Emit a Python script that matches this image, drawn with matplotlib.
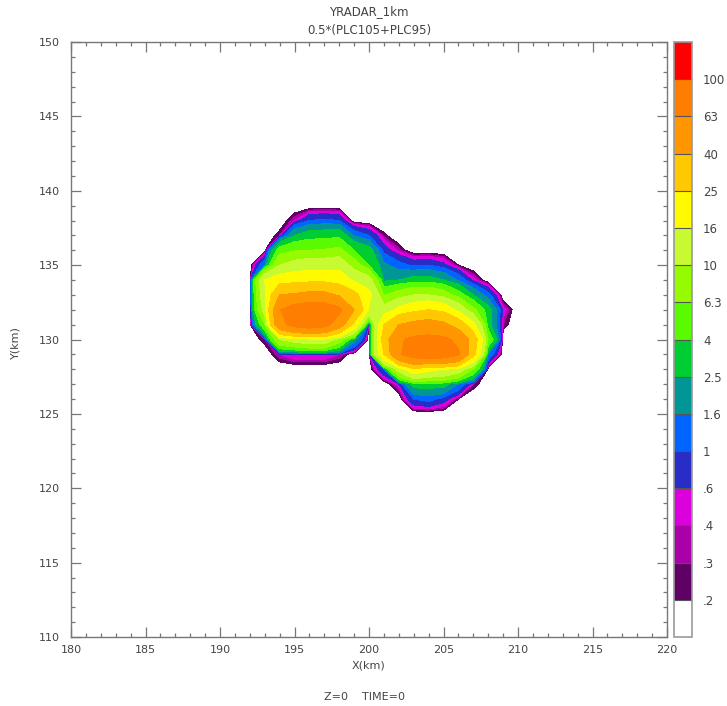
import numpy as np
import matplotlib
matplotlib.use("Agg")
import matplotlib.pyplot as plt
from matplotlib.colors import ListedColormap, BoundaryNorm
from matplotlib.cm import ScalarMappable
from matplotlib.ticker import MultipleLocator

# grid (km) and field values, rows from y=140 down to y=124
x_km = list(range(191, 211))
y_km = list(range(140, 123, -1))
field = [
    [0, 0, 0, 0, 0, 0, 0, 0, 0, 0, 0, 0, 0, 0, 0, 0, 0, 0, 0, 0],
    [0, 0, 0, 0, 0, 0, 0, 0, 0, 0, 0, 0, 0, 0, 0, 0, 0, 0, 0, 0],
    [0, 0, 0, 0, 0.4, 1.0, 1.1, 1.0, 0, 0, 0, 0, 0, 0, 0, 0, 0, 0, 0, 0],
    [0, 0, 0, 0.3, 2.5, 3.2, 3.3, 3.5, 1.5, 1.0, 0.25, 0, 0, 0, 0, 0, 0, 0, 0, 0],
    [0, 0, 0, 5, 6, 6.3, 6.5, 7, 4, 3, 0.8, 0.35, 0, 0, 0, 0, 0, 0, 0, 0],
    [0, 0, 1.5, 10, 12, 13, 13, 14, 8, 4, 1.8, 1.2, 0.9, 1.0, 0.7, 0.2, 0, 0, 0, 0],
    [0, 0, 16, 20, 21, 22, 22, 20, 15, 12, 2.2, 2.5, 3, 3, 2.5, 1.5, 0.5, 0, 0, 0],
    [0, 0, 14, 40, 42, 45, 45, 38, 28, 18, 6, 8, 10, 10, 8, 5, 2.5, 1.2, 0, 0],
    [0, 0, 12, 62, 75, 80, 80, 68, 40, 15, 12, 18, 22, 25, 22, 14, 7, 3, 0.5, 0],
    [0, 0, 6, 55, 72, 78, 72, 50, 22, 0, 25, 40, 45, 48, 44, 32, 18, 3, 0.3, 0],
    [0, 0, 0.3, 10, 12, 14, 14, 8, 2, 0, 30, 60, 68, 70, 68, 58, 32, 6, 0, 0],
    [0, 0, 0, 0.4, 0.6, 0.6, 0.6, 0.4, 0, 0, 25, 60, 76, 78, 78, 66, 28, 1.5, 0, 0],
    [0, 0, 0, 0, 0, 0, 0, 0, 0, 0, 1, 12, 22, 18, 16, 13, 6, 0, 0, 0],
    [0, 0, 0, 0, 0, 0, 0, 0, 0, 0, 0, 0.5, 3, 3, 3, 1.5, 0.3, 0, 0, 0],
    [0, 0, 0, 0, 0, 0, 0, 0, 0, 0, 0, 0, 1.0, 1.2, 0.8, 0.2, 0, 0, 0, 0],
    [0, 0, 0, 0, 0, 0, 0, 0, 0, 0, 0, 0, 0, 0, 0, 0, 0, 0, 0, 0],
    [0, 0, 0, 0, 0, 0, 0, 0, 0, 0, 0, 0, 0, 0, 0, 0, 0, 0, 0, 0],
]

levels = [0.2, 0.3, 0.4, 0.6, 1, 1.6, 2.5, 4, 6.3, 10, 16, 25, 40, 63, 100]
level_labels = [".2", ".3", ".4", ".6", "1", "1.6", "2.5", "4", "6.3",
                "10", "16", "25", "40", "63", "100"]
colors = ["#ffffff", "#5f0064", "#aa00aa", "#dc00dc", "#282dc8", "#0064ff",
          "#009696", "#00cd32", "#5afa00", "#96fa00", "#c8fa32", "#fffa00",
          "#ffc800", "#ff9600", "#ff7d00", "#ff0000"]

txt = "#444444"
plt.rcParams["font.family"] = "DejaVu Sans"

fig = plt.figure(figsize=(7.27, 7.06), dpi=100)
ax = fig.add_axes([0.0977, 0.0977, 0.8198, 0.8428])

X, Y = np.meshgrid(x_km, y_km)
Z = np.array(field)
ax.contourf(X, Y, Z, levels=levels + [1000], colors=colors[1:])

ax.set_xlim(180, 220)
ax.set_ylim(110, 150)
ax.xaxis.set_major_locator(MultipleLocator(5))
ax.xaxis.set_minor_locator(MultipleLocator(1))
ax.yaxis.set_major_locator(MultipleLocator(5))
ax.yaxis.set_minor_locator(MultipleLocator(1))
ax.tick_params(which="both", direction="in", top=True, right=True,
               color="#777777", labelsize=8, labelcolor=txt)
ax.tick_params(axis="x", which="both", pad=6)
ax.tick_params(axis="y", which="both", pad=8)
ax.tick_params(which="major", length=7, width=0.9)
ax.tick_params(which="minor", length=3.2, width=0.9)
for s in ax.spines.values():
    s.set_color("#777777")
    s.set_linewidth(1.0)

fig.text(0.5075, 0.058, "X(km)", ha="center", va="center", fontsize=8, color=txt)
fig.text(0.021, 0.515, "Y(km)", ha="center", va="center", fontsize=8,
         color=txt, rotation=90)
fig.text(0.5075, 0.983, "YRADAR_1km", ha="center", va="center", fontsize=8.5, color=txt)
fig.text(0.5075, 0.957, "0.5*(PLC105+PLC95)", ha="center", va="center",
         fontsize=8.5, color=txt)
fig.text(0.502, 0.013, "Z=0    TIME=0", ha="center", va="center", fontsize=8, color=txt)

# colour bar
cax = fig.add_axes([0.927, 0.0977, 0.0248, 0.8428])
bounds = [0] + levels + [160]
sm = ScalarMappable(norm=BoundaryNorm(bounds, len(colors)), cmap=ListedColormap(colors))
cb = fig.colorbar(sm, cax=cax, boundaries=bounds, spacing="uniform",
                  drawedges=True, ticks=levels)
cb.ax.minorticks_off()
cb.ax.set_yticklabels(level_labels)
cb.ax.tick_params(which="both", length=0, pad=8, labelsize=8.5, labelcolor=txt)
cb.outline.set_edgecolor("#999999")
cb.outline.set_linewidth(1.2)
cb.dividers.set_color("#555555")
cb.dividers.set_linewidth(0.8)

fig.savefig("out.png", dpi=100)
